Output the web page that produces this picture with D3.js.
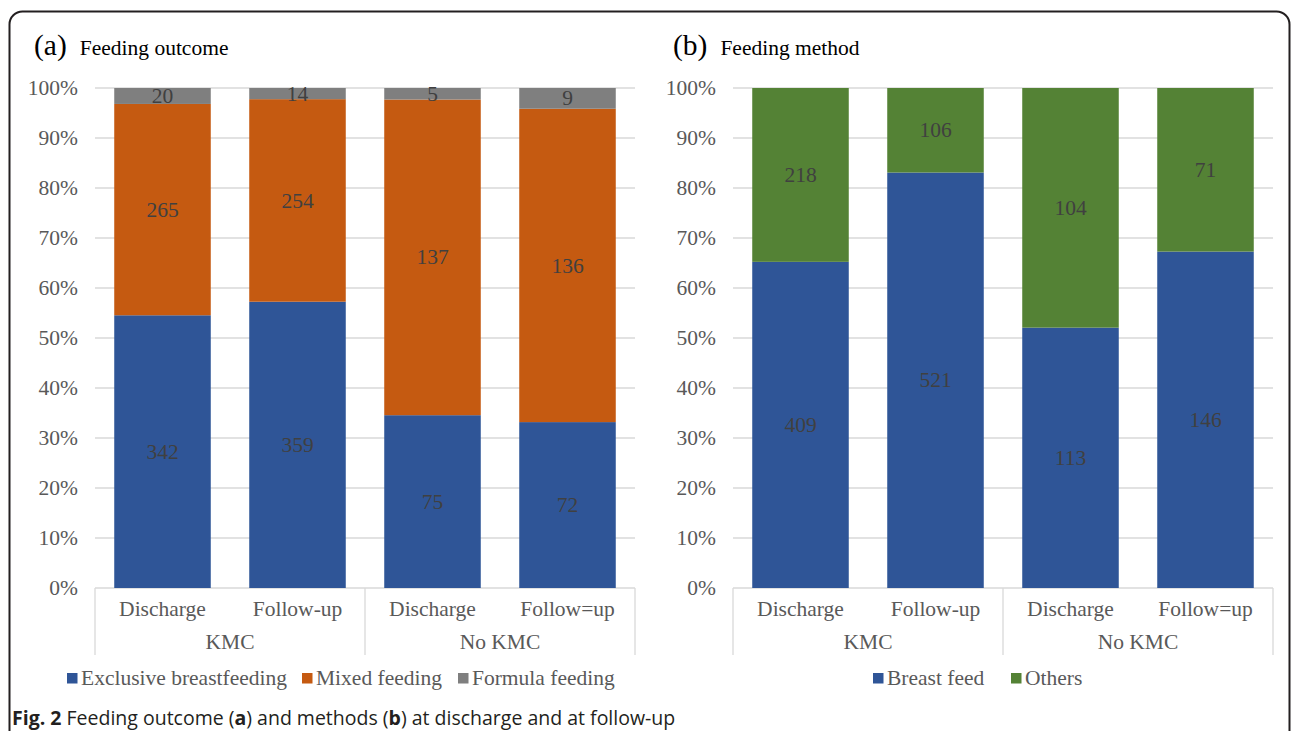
<!DOCTYPE html>
<html lang="en">
<head>
<meta charset="utf-8">
<title>Fig. 2 Feeding outcome and method</title>
<script src="https://d3js.org/d3.v7.min.js"></script>
<style>
  body { margin: 0; background: #fff; }
  svg text { font-family: 'Liberation Serif', 'Times New Roman', serif; }
  text.caption { font-family: 'Open Sans', 'Noto Sans', sans-serif; }
</style>
</head>
<body>
<svg id="fig" width="1292" height="731"></svg>
<script>

/* Data */
/* ==== */

var times = ['Discharge', 'Follow-up', 'Discharge', 'Follow=up'];
var groups = ['KMC', 'No KMC'];
var yTicks = [0, 0.1, 0.2, 0.3, 0.4, 0.5, 0.6, 0.7, 0.8, 0.9, 1];

// (a) feeding outcome counts
var outcomeKeys = ['Exclusive breastfeeding', 'Mixed feeding', 'Formula feeding'];
var exclusive = [342, 359, 75, 72];
var mixed = [265, 254, 137, 136];
var formula = [20, 14, 5, 9];

// (b) feeding method counts
var methodKeys = ['Breast feed', 'Others'];
var breastFeed = [409, 521, 113, 146];
var others = [218, 106, 104, 71];

var colours = {
  'Exclusive breastfeeding': '#2F5597',
  'Mixed feeding': '#C55A11',
  'Formula feeding': '#7F7F7F',
  'Breast feed': '#2F5597',
  'Others': '#548235'
};

var fs = 21.5; // general label size


/* Setup */
/* ===== */

var svg = d3.select('#fig');

// frame round the whole figure
svg.append('rect')
  .attr('x', 9.5).attr('y', 11.5)
  .attr('width', 1280).attr('height', 780)
  .attr('rx', 13)
  .attr('fill', 'none')
  .attr('stroke', '#231f20')
  .attr('stroke-width', 2);

function drawPanel(opt) {

  var g = svg.append('g');
  var rows = times.map(function(t, i) {
    var r = { idx: i };
    opt.keys.forEach(function(k, j) { r[k] = opt.series[j][i]; });
    return r;
  });

  var x = d3.scaleBand()
    .domain(d3.range(times.length))
    .range([opt.left, opt.left + 540])
    .paddingInner(0.285)
    .paddingOuter(0.1425);

  var y = d3.scaleLinear()
    .domain([0, 1])
    .range([588, 88]);

  // gridlines
  g.selectAll('line.grid')
    .data(yTicks)
    .join('line')
    .attr('x1', opt.left).attr('x2', opt.left + 540)
    .attr('y1', function(d) { return y(d); })
    .attr('y2', function(d) { return y(d); })
    .attr('stroke', '#d9d9d9')
    .attr('stroke-width', 1.3);

  // y axis labels
  g.selectAll('text.ytick')
    .data(yTicks)
    .join('text')
    .attr('x', opt.left - 17)
    .attr('y', function(d) { return y(d); })
    .attr('dy', '0.33em')
    .attr('text-anchor', 'end')
    .attr('font-size', fs)
    .attr('fill', '#595959')
    .text(d3.format('.0%'));

  // stacked bars
  var stack = d3.stack().keys(opt.keys).offset(d3.stackOffsetExpand);
  var layers = stack(rows);

  var layer = g.selectAll('g.layer')
    .data(layers)
    .join('g')
    .attr('fill', function(d) { return colours[d.key]; });

  layer.selectAll('rect')
    .data(function(d) { return d; })
    .join('rect')
    .attr('x', function(d) { return x(d.data.idx); })
    .attr('width', x.bandwidth())
    .attr('y', function(d) { return y(d[1]); })
    .attr('height', function(d) { return y(d[0]) - y(d[1]); });

  // value labels
  layers.forEach(function(l) {
    g.selectAll(null)
      .data(l)
      .join('text')
      .attr('x', function(d) { return x(d.data.idx) + x.bandwidth() / 2; })
      .attr('y', function(d) { return (y(d[0]) + y(d[1])) / 2; })
      .attr('dy', '0.33em')
      .attr('text-anchor', 'middle')
      .attr('font-size', fs)
      .attr('fill', '#404040')
      .text(function(d) { return d.data[l.key]; });
  });

  // multi-level category axis
  var axisCol = '#d9d9d9';
  [0, 2, 4].forEach(function(i) {
    var xx = opt.left + i * 135;
    g.append('line')
      .attr('x1', xx).attr('x2', xx)
      .attr('y1', 588).attr('y2', 655)
      .attr('stroke', axisCol).attr('stroke-width', 1.3);
  });

  g.selectAll('text.cat')
    .data(times)
    .join('text')
    .attr('x', function(d, i) { return x(i) + x.bandwidth() / 2; })
    .attr('y', 616)
    .attr('text-anchor', 'middle')
    .attr('font-size', fs)
    .attr('fill', '#595959')
    .text(function(d) { return d; });

  g.selectAll('text.group')
    .data(groups)
    .join('text')
    .attr('x', function(d, i) { return opt.left + 135 + i * 270; })
    .attr('y', 649)
    .attr('text-anchor', 'middle')
    .attr('font-size', fs)
    .attr('fill', '#595959')
    .text(function(d) { return d; });

  // title
  var t = g.append('text')
    .attr('x', opt.titleX)
    .attr('y', 55)
    .attr('fill', '#000');
  t.append('tspan').attr('font-size', 29.5).text(opt.tag);
  t.append('tspan').attr('font-size', fs).attr('dx', 13).text(opt.title);

  // legend
  var lg = g.append('g');
  var pos = opt.legendX;
  opt.keys.forEach(function(k, i) {
    lg.append('rect')
      .attr('x', pos[i]).attr('y', 673)
      .attr('width', 10.5).attr('height', 10.5)
      .attr('fill', colours[k]);
    lg.append('text')
      .attr('x', pos[i] + 14).attr('y', 685)
      .attr('font-size', fs)
      .attr('fill', '#595959')
      .text(k);
  });
}

drawPanel({
  left: 95,
  keys: outcomeKeys,
  series: [exclusive, mixed, formula],
  tag: '(a)',
  title: 'Feeding outcome',
  titleX: 34,
  legendX: [67, 302, 458]
});

drawPanel({
  left: 733,
  keys: methodKeys,
  series: [breastFeed, others],
  tag: '(b)',
  title: 'Feeding method',
  titleX: 673,
  legendX: [873, 1011]
});

// caption
var cap = svg.append('text')
  .attr('class', 'caption')
  .attr('x', 12).attr('y', 725)
  .attr('font-size', 19.5)
  .attr('fill', '#231f20');
cap.append('tspan').attr('font-weight', 'bold').text('Fig. 2');
cap.append('tspan').text(' Feeding outcome (');
cap.append('tspan').attr('font-weight', 'bold').text('a');
cap.append('tspan').text(') and methods (');
cap.append('tspan').attr('font-weight', 'bold').text('b');
cap.append('tspan').text(') at discharge and at follow-up');

</script>
</body>
</html>
